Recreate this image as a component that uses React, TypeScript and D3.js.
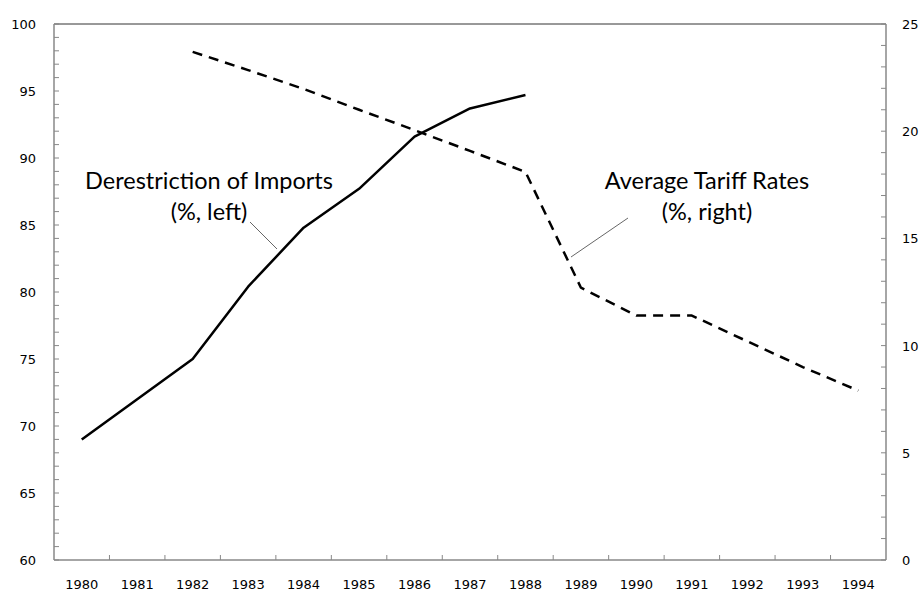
import React from "react";
import * as d3 from "d3";

const years = ["1980","1981","1982","1983","1984","1985","1986","1987","1988","1989","1990","1991","1992","1993","1994"];
const derestriction: (number | null)[] = [69.0, 72.0, 75.0, 80.4, 84.8, 87.7, 91.6, 93.7, 94.7, null, null, null, null, null, null];
const tariff: (number | null)[] = [null, null, 23.7, 22.85, 21.97, 21.0, 20.05, 19.08, 18.1, 12.7, 11.4, 11.4, 10.2, 9.0, 7.9];
const leftTicks = [60, 65, 70, 75, 80, 85, 90, 95, 100];
const rightTicks = [0, 5, 10, 15, 20, 25];

const W = 921, H = 595;
const m = { left: 54, right: 886, top: 24, bottom: 560 };

export default function App() {
  const x = d3.scaleBand<string>().domain(years).range([m.left, m.right]).padding(0);
  const cx = (y: string) => (x(y) as number) + x.bandwidth() / 2;
  const yL = d3.scaleLinear().domain([60, 100]).range([m.bottom, m.top]);
  const yR = d3.scaleLinear().domain([0, 25]).range([m.bottom, m.top]);

  const solidPts = years.map((y, i) => [y, derestriction[i]] as [string, number | null]).filter(d => d[1] !== null) as [string, number][];
  const dashPts = years.map((y, i) => [y, tariff[i]] as [string, number | null]).filter(d => d[1] !== null) as [string, number][];
  const solidLine = d3.line<[string, number]>().x(d => cx(d[0])).y(d => yL(d[1]));
  const dashLine = d3.line<[string, number]>().x(d => cx(d[0])).y(d => yR(d[1]));

  const leftMinor = d3.range(60, 101, 1);
  const rightMinor = d3.range(0, 26, 1);
  const xEdges = d3.range(1, years.length).map(i => m.left + i * x.bandwidth());

  const tickFont = { fontFamily: "DejaVu Sans, Verdana, sans-serif", fontSize: 13, fill: "#000" };
  const labelFont = { fontFamily: "Lato, 'Open Sans', sans-serif", fontSize: 23.5, fill: "#000" };

  return (
    <svg width={W} height={H} style={{ position: "absolute", left: 0, top: 0, background: "#fff" }}>
      <rect x={0} y={0} width={W} height={H} fill="#fff" />
      <line x1={m.left} x2={m.right} y1={m.top} y2={m.top} stroke="#333" strokeWidth={1} />
      <line x1={m.left} x2={m.left} y1={m.top} y2={m.bottom} stroke="#888" strokeWidth={1.5} />
      <line x1={m.right} x2={m.right} y1={m.top} y2={m.bottom} stroke="#888" strokeWidth={1.5} />
      <line x1={m.left} x2={m.right} y1={m.bottom} y2={m.bottom} stroke="#888" strokeWidth={1.5} />
      {leftMinor.map(v => (
        <line key={"lm" + v} x1={m.left} x2={m.left + 5} y1={yL(v)} y2={yL(v)} stroke="#888" strokeWidth={1} />
      ))}
      {rightMinor.map(v => (
        <line key={"rm" + v} x1={m.right - 5} x2={m.right} y1={yR(v)} y2={yR(v)} stroke="#888" strokeWidth={1} />
      ))}
      {xEdges.map((e, i) => (
        <line key={"xe" + i} x1={e} x2={e} y1={m.bottom - 5} y2={m.bottom} stroke="#888" strokeWidth={1} />
      ))}
      {leftTicks.map(v => (
        <text key={"lt" + v} x={36} y={yL(v) + 5} textAnchor="end" {...tickFont}>{v}</text>
      ))}
      {rightTicks.map(v => (
        <text key={"rt" + v} x={902} y={yR(v) + 5} textAnchor="start" {...tickFont}>{v}</text>
      ))}
      {years.map(y => (
        <text key={"xl" + y} x={cx(y)} y={589} textAnchor="middle" {...tickFont}>{y}</text>
      ))}
      <path d={solidLine(solidPts) || ""} fill="none" stroke="#000" strokeWidth={2.5} strokeLinejoin="round" />
      <path d={dashLine(dashPts) || ""} fill="none" stroke="#000" strokeWidth={2.5} strokeLinejoin="round" strokeDasharray="10,7" />
      <text x={209} y={189} textAnchor="middle" {...labelFont}>Derestriction of Imports</text>
      <text x={209} y={220} textAnchor="middle" {...labelFont}>(%, left)</text>
      <line x1={250} y1={222} x2={277} y2={249} stroke="#666" strokeWidth={1} />
      <text x={707} y={189} textAnchor="middle" {...labelFont}>Average Tariff Rates</text>
      <text x={707} y={220} textAnchor="middle" {...labelFont}>(%, right)</text>
      <line x1={628} y1={218} x2={571} y2={257} stroke="#666" strokeWidth={1} />
    </svg>
  );
}
